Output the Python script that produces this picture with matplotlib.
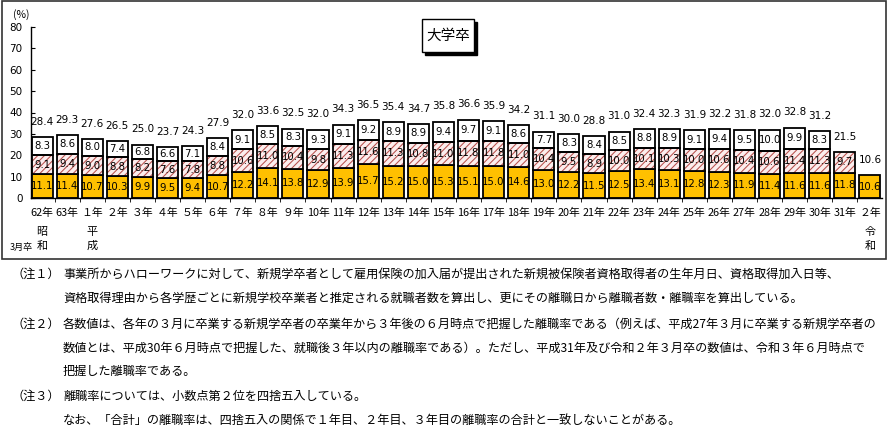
import matplotlib
matplotlib.use("Agg")
import matplotlib.pyplot as plt
import matplotlib.patches as mpatches
import numpy as np

plt.rcParams["font.family"] = ["Noto Sans CJK JP", "DejaVu Sans"]
plt.rcParams["hatch.linewidth"] = 0.75

# 卒業年(3月卒)
years = ["62年", "63年", "１年", "２年", "３年", "４年", "５年", "６年", "７年", "８年", "９年",
         "10年", "11年", "12年", "13年", "14年", "15年", "16年", "17年", "18年", "19年", "20年",
         "21年", "22年", "23年", "24年", "25年", "26年", "27年", "28年", "29年", "30年", "31年", "２年"]
# 1年目
year1 = [11.1, 11.4, 10.7, 10.3, 9.9, 9.5, 9.4, 10.7, 12.2, 14.1, 13.8,
         12.9, 13.9, 15.7, 15.2, 15.0, 15.3, 15.1, 15.0, 14.6, 13.0, 12.2,
         11.5, 12.5, 13.4, 13.1, 12.8, 12.3, 11.9, 11.4, 11.6, 11.6, 11.8, 10.6]
# 2年目
year2 = [9.1, 9.4, 9.0, 8.8, 8.2, 7.6, 7.8, 8.8, 10.6, 11.0, 10.4,
         9.8, 11.3, 11.6, 11.3, 10.8, 11.0, 11.8, 11.8, 11.0, 10.4, 9.5,
         8.9, 10.0, 10.1, 10.3, 10.0, 10.6, 10.4, 10.6, 11.4, 11.3, 9.7, None]
# 3年目
year3 = [8.3, 8.6, 8.0, 7.4, 6.8, 6.6, 7.1, 8.4, 9.1, 8.5, 8.3,
         9.3, 9.1, 9.2, 8.9, 8.9, 9.4, 9.7, 9.1, 8.6, 7.7, 8.3,
         8.4, 8.5, 8.8, 8.9, 9.1, 9.4, 9.5, 10.0, 9.9, 8.3, None, None]
# 合計
totals = [28.4, 29.3, 27.6, 26.5, 25.0, 23.7, 24.3, 27.9, 32.0, 33.6, 32.5,
          32.0, 34.3, 36.5, 35.4, 34.7, 35.8, 36.6, 35.9, 34.2, 31.1, 30.0,
          28.8, 31.0, 32.4, 32.3, 31.9, 32.2, 31.8, 32.0, 32.8, 31.2, 21.5, 10.6]

eras = [(0, "昭\n和"), (2, "平\n成"), (33, "令\n和")]

notes = [
    ("（注１）", "事業所からハローワークに対して、新規学卒者として雇用保険の加入届が提出された新規被保険者資格取得者の生年月日、資格取得加入日等、"),
    ("", "資格取得理由から各学歴ごとに新規学校卒業者と推定される就職者数を算出し、更にその離職日から離職者数・離職率を算出している。"),
    ("（注２）", "各数値は、各年の３月に卒業する新規学卒者の卒業年から３年後の６月時点で把握した離職率である（例えば、平成27年３月に卒業する新規学卒者の"),
    ("", "数値とは、平成30年６月時点で把握した、就職後３年以内の離職率である）。ただし、平成31年及び令和２年３月卒の数値は、令和３年６月時点で"),
    ("", "把握した離職率である。"),
    ("（注３）", "離職率については、小数点第２位を四捨五入している。"),
    ("", "なお、「合計」の離職率は、四捨五入の関係で１年目、２年目、３年目の離職率の合計と一致しないことがある。"),
]

W, H = 890, 438


def fx(px):
    return px / W


def fy(py):
    return 1 - py / H


fig = plt.figure(figsize=(W / 100, H / 100), dpi=100)
ax = fig.add_axes([fx(31), fy(198), fx(882) - fx(31), (198 - 27) / H])

x = np.arange(len(years))
w = 0.84
num_font = "DejaVu Sans"

for i in x:
    b = 0
    ax.bar(i, year1[i], w, bottom=b, color="#FFC000", edgecolor="black", linewidth=1.3, zorder=2)
    ax.text(i, b + year1[i] / 2, f"{year1[i]:.1f}", ha="center", va="center",
            fontsize=7.3, family=num_font, zorder=4)
    b += year1[i]
    if year2[i] is not None:
        ax.bar(i, year2[i], w, bottom=b, color="#FBEDED", edgecolor="#B8504C",
               hatch="/////", linewidth=0, zorder=2)
        ax.bar(i, year2[i], w, bottom=b, fill=False, edgecolor="black", linewidth=1.3, zorder=3)
        ax.text(i, b + year2[i] / 2, f"{year2[i]:.1f}", ha="center", va="center",
                fontsize=7.3, family=num_font, zorder=4)
        b += year2[i]
    if year3[i] is not None:
        ax.bar(i, year3[i], w, bottom=b, color="white", edgecolor="black", linewidth=1.3, zorder=2)
        ax.text(i, b + year3[i] / 2, f"{year3[i]:.1f}", ha="center", va="center",
                fontsize=7.3, family=num_font, zorder=4)
        b += year3[i]
    ax.annotate(f"{totals[i]:.1f}", (i, b), xytext=(0, 11), textcoords="offset points",
                ha="center", va="center", fontsize=7.5, family=num_font)

ax.set_xlim(-0.44, len(years) - 1 + 0.48)
ax.set_ylim(0, 80)
ax.set_yticks(range(0, 81, 10))
ax.tick_params(axis="y", direction="in", length=3, pad=6, labelsize=7.5)
for lab in ax.get_yticklabels():
    lab.set_family(num_font)
ax.set_xticks(x)
ax.set_xticklabels(years, fontsize=7.8)
ax.tick_params(axis="x", length=0, pad=7)
ax.set_xticks(x[:-1] + 0.5, minor=True)
ax.tick_params(axis="x", which="minor", length=3, direction="out")
for s in ["top", "right"]:
    ax.spines[s].set_visible(False)
ax.spines["left"].set_linewidth(1.0)
ax.spines["bottom"].set_linewidth(1.0)

for pos, name in eras:
    ax.text(pos, -0.24, name, transform=ax.get_xaxis_transform(), ha="center", va="center",
            fontsize=8, linespacing=1.4)

fig.text(fx(10), fy(247), "3月卒", fontsize=6.5, ha="left", va="center")
fig.text(fx(13), fy(15), "(%)", fontsize=7.5, ha="left", va="center")

# 枠
fig.patches.append(mpatches.Rectangle((fx(2), fy(259)), fx(886) - fx(2), (259 - 1) / H,
                                      transform=fig.transFigure, fill=False,
                                      edgecolor="#333333", linewidth=1.2))
# タイトル
fig.patches.append(mpatches.Rectangle((fx(425), fy(55)), fx(52), 33 / H,
                                      transform=fig.transFigure, facecolor="black",
                                      edgecolor="black", zorder=5))
fig.patches.append(mpatches.Rectangle((fx(422), fy(52)), fx(52), 33 / H,
                                      transform=fig.transFigure, facecolor="white",
                                      edgecolor="black", linewidth=1.0, zorder=6))
fig.text(fx(448), fy(35.5), "大学卒", fontsize=10.5, ha="center", va="center", zorder=7)

# 注記
ys = [274, 298, 324, 348, 372, 396, 420]
for (head, body), yy in zip(notes, ys):
    if head:
        fig.text(fx(12), fy(yy), head, fontsize=8.75, ha="left", va="center")
    fig.text(fx(63), fy(yy), body, fontsize=8.75, ha="left", va="center")

fig.savefig("out.png", dpi=100)
